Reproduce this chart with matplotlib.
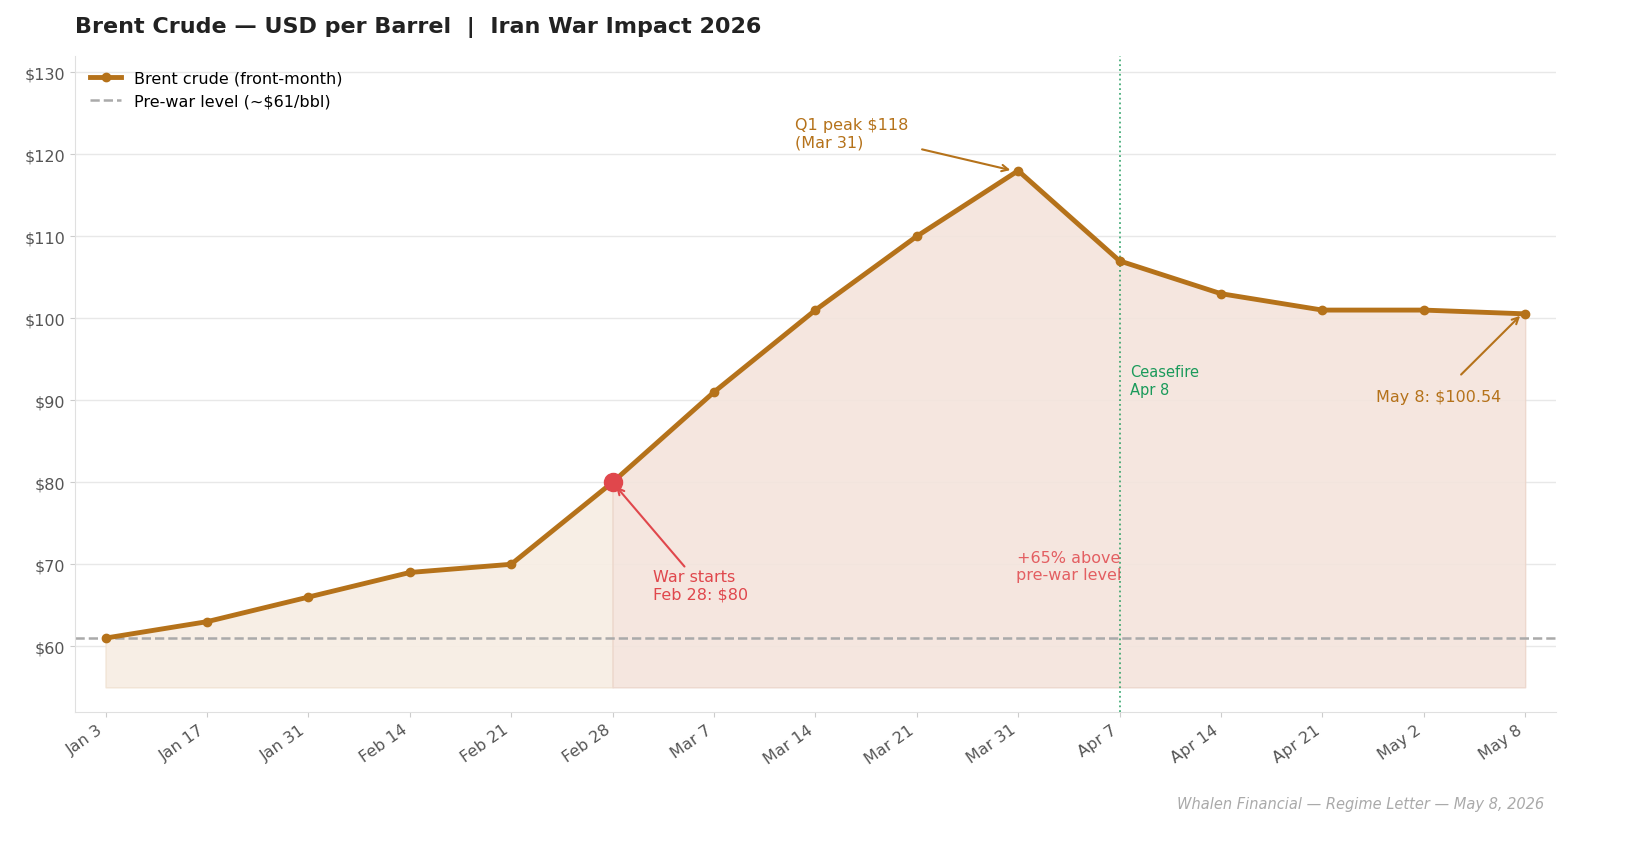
import matplotlib
matplotlib.use("Agg")
import matplotlib.pyplot as plt
import numpy as np

dates = ["Jan 3", "Jan 17", "Jan 31", "Feb 14", "Feb 21", "Feb 28", "Mar 7", "Mar 14",
         "Mar 21", "Mar 31", "Apr 7", "Apr 14", "Apr 21", "May 2", "May 8"]
prices = [61, 63, 66, 69, 70, 80, 91, 101, 110, 118, 107, 103, 101, 101, 100.54]
prewar = 61
war_idx = 5
peak_idx = 9
ceasefire_idx = 10
yticks = [60, 70, 80, 90, 100, 110, 120, 130]

line_c = "#b5721a"
red = "#e0474c"
green = "#1a9a5a"

x = np.arange(len(dates))
y = np.array(prices)

fig, ax = plt.subplots(figsize=(16.34, 8.62), dpi=100)
fig.subplots_adjust(left=0.046, right=0.952, top=0.934, bottom=0.173)

base = 55
ax.fill_between(x[:war_idx + 1], base, y[:war_idx + 1], color="#f7ede3", alpha=0.9, linewidth=1, edgecolor="#f0e2d2")
ax.fill_between(x[war_idx:], base, y[war_idx:], color="#f4e4dc", alpha=0.9, linewidth=1, edgecolor="#ecd6cb")

ax.axhline(prewar, color="#aaaaaa", linestyle="--", linewidth=1.8, label="Pre-war level (~$61/bbl)", zorder=2)
ax.plot(x, y, color=line_c, linewidth=3.5, marker="o", markersize=6, label="Brent crude (front-month)", zorder=4)
ax.plot(x[war_idx], y[war_idx], "o", color=red, markersize=13, zorder=5)
ax.axvline(ceasefire_idx, color=green, linestyle=":", linewidth=1.3, alpha=0.8, zorder=3)

handles, labels = ax.get_legend_handles_labels()
ax.legend(handles[::-1], labels[::-1], loc="upper left", frameon=False, fontsize=11.5)

ax.annotate("War starts\nFeb 28: $80", xy=(x[war_idx], y[war_idx]), xytext=(5.4, 65.8),
            color=red, fontsize=11.5, arrowprops=dict(arrowstyle="->", color=red, lw=1.5, shrinkA=0, shrinkB=4))
ax.annotate("Q1 peak $118\n(Mar 31)", xy=(x[peak_idx] - 0.05, y[peak_idx]), xytext=(6.8, 121),
            color=line_c, fontsize=11.5, arrowprops=dict(arrowstyle="->", color=line_c, lw=1.5, shrinkA=8, shrinkB=2))
ax.annotate("May 8: $100.54", xy=(x[-1] - 0.03, y[-1]), xytext=(13.15, 89.9),
            color=line_c, fontsize=11.5, ha="center", arrowprops=dict(arrowstyle="->", color=line_c, lw=1.5, shrinkA=12, shrinkB=2))
ax.text(ceasefire_idx + 0.1, 90.8, "Ceasefire\nApr 8", color=green, fontsize=10.5)
ax.text(9.5, 68.2, "+65% above\npre-war level", color=red, fontsize=11.5, ha="center", alpha=0.85)

ax.set_xticks(x)
ax.set_xticklabels(dates, rotation=35, ha="right", fontsize=11.5, color="#555555")
ax.set_yticks(yticks)
ax.set_yticklabels([f"${v}" for v in yticks], fontsize=11.5, color="#555555")
ax.set_ylim(52, 132)
ax.set_xlim(-0.3, 14.3)
ax.grid(axis="y", color="#e8e8e8", linewidth=1)
ax.set_axisbelow(True)
for s in ["top", "right"]:
    ax.spines[s].set_visible(False)
for s in ["left", "bottom"]:
    ax.spines[s].set_color("#e0e0e0")
ax.tick_params(colors="#cccccc", labelcolor="#555555")

fig.text(0.046, 0.962, "Brent Crude — USD per Barrel  |  Iran War Impact 2026", fontsize=16,
         fontweight="bold", color="#222222")
fig.text(0.945, 0.062, "Whalen Financial — Regime Letter — May 8, 2026", fontsize=10.5,
         style="italic", color="#aaaaaa", ha="right")

fig.savefig("out.png", dpi=100)
